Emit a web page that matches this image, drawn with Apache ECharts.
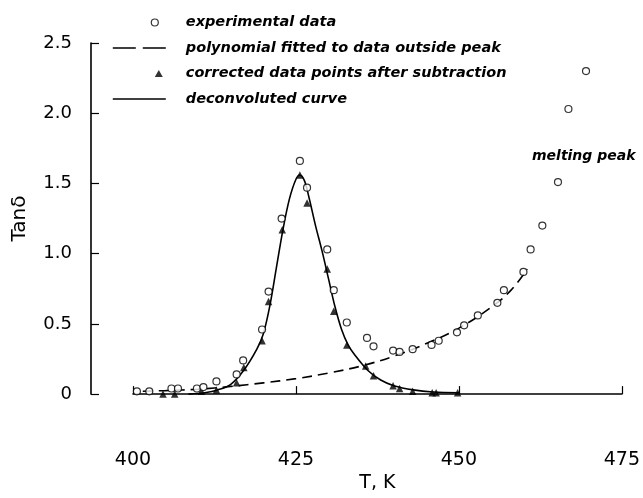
<!DOCTYPE html>
<html>
<head>
<meta charset="utf-8">
<script src="https://cdn.jsdelivr.net/npm/echarts@6/dist/echarts.min.js"></script>
<style>html,body{margin:0;padding:0;background:#fff}#c{width:643px;height:498px}</style>
</head>
<body>
<div id="c"></div>
<script>
// experimental data (open circles)
var expT = [399.8, 400.6, 402.5, 405.9, 406.9, 409.8, 410.8, 412.8, 415.9, 416.9, 419.8, 420.8, 422.8, 425.6, 426.7, 429.8, 430.8, 432.8, 435.9, 436.9, 439.9, 440.9, 442.9, 445.8, 446.9, 449.7, 450.8, 452.9, 455.9, 456.9, 459.9, 461.0, 462.8, 465.2, 466.8, 469.5];
var expV = [0.02, 0.02, 0.02, 0.04, 0.04, 0.04, 0.05, 0.09, 0.14, 0.24, 0.46, 0.73, 1.25, 1.66, 1.47, 1.03, 0.74, 0.51, 0.40, 0.34, 0.31, 0.30, 0.32, 0.35, 0.38, 0.44, 0.49, 0.56, 0.65, 0.74, 0.87, 1.03, 1.20, 1.51, 2.03, 2.30];
// polynomial fitted to data outside peak (dashed)
var polyT = [401.5, 405, 410, 415, 420, 425, 430, 435, 440, 445, 450, 455, 458, 460.5];
var polyV = [0.02, 0.025, 0.035, 0.055, 0.08, 0.11, 0.15, 0.20, 0.27, 0.36, 0.47, 0.62, 0.74, 0.89];
// corrected data points after subtraction (filled triangles)
var triT = [404.6, 406.4, 410.5, 412.8, 415.9, 417.0, 419.8, 420.8, 422.9, 425.6, 426.7, 429.8, 430.8, 432.8, 435.7, 436.9, 439.9, 440.9, 442.9, 445.9, 446.5, 449.8];
var triV = [0.0, 0.0, 0.02, 0.03, 0.08, 0.19, 0.38, 0.66, 1.17, 1.56, 1.36, 0.89, 0.59, 0.35, 0.20, 0.13, 0.06, 0.04, 0.02, 0.01, 0.01, 0.01];
// deconvoluted curve (solid)
var decT = [408.5, 411, 413, 415, 417, 419, 420, 421, 422, 423, 424, 425, 425.6, 426.3, 427, 428, 429, 430, 431, 432, 433, 434, 436, 438, 440, 443, 446, 450];
var decV = [0.0, 0.01, 0.03, 0.07, 0.17, 0.32, 0.43, 0.63, 0.90, 1.17, 1.39, 1.53, 1.56, 1.52, 1.40, 1.20, 1.02, 0.82, 0.62, 0.46, 0.35, 0.28, 0.17, 0.10, 0.06, 0.03, 0.015, 0.01];

var xTicks = [400, 425, 450, 475];
var yTicks = ['0', '0.5', '1.0', '1.5', '2.0', '2.5'];

function pairs(a, b) { return a.map(function (v, i) { return [v, b[i]]; }); }

var TICKFONT = '"DejaVu Sans", sans-serif';
var chart = echarts.init(document.getElementById('c'));
chart.setOption({
  animation: false,
  backgroundColor: '#fff',
  grid: { left: 133, right: 20, top: 43, bottom: 100 },
  legend: {
    orient: 'vertical', left: 107, top: 8.5,
    itemWidth: 53, itemHeight: 12, itemGap: 7.5,
    symbolKeepAspect: false,
    selectedMode: false,
    textStyle: { fontFamily: TICKFONT, fontStyle: 'italic', fontWeight: 'bold', fontSize: 14.5, lineHeight: 18, color: '#000', padding: [0, 0, 0, 15] },
    data: [
      { name: 'experimental data',
        icon: 'path://M0,0L0,0M53,12L53,12M45.5,6A3.5,3.5,0,1,1,38.5,6A3.5,3.5,0,1,1,45.5,6Z',
        itemStyle: { color: '#fff', borderColor: '#000', borderWidth: 1.2 } },
      { name: 'polynomial fitted to data outside peak',
        itemStyle: { opacity: 0 }, lineStyle: { type: [23, 7], width: 1.6, color: '#000' } },
      { name: 'corrected data points after subtraction',
        icon: 'path://M0,0L0,0M53,12L53,12M46,2.5L50,9.5L42,9.5Z',
        itemStyle: { color: '#000', borderWidth: 0 } },
      { name: 'deconvoluted curve',
        itemStyle: { opacity: 0 }, lineStyle: { width: 1.3, color: '#000' } }
    ]
  },
  xAxis: {
    type: 'value', min: 400, max: 475, interval: 25, offset: 39,
    name: 'T, K', nameLocation: 'middle', nameGap: 40,
    nameTextStyle: { fontFamily: TICKFONT, fontSize: 19, color: '#000' },
    axisLine: { lineStyle: { color: '#000', width: 1.6 } },
    axisTick: { inside: true, length: 8, lineStyle: { color: '#000', width: 1.2 } },
    axisLabel: { margin: 17, fontFamily: TICKFONT, fontSize: 19, color: '#000',
      formatter: function (v) { return xTicks.indexOf(v) >= 0 ? String(v) : ''; } },
    splitLine: { show: false }
  },
  yAxis: {
    type: 'value', min: 0, max: 2.5, interval: 0.5, offset: 42,
    name: 'Tanδ', nameLocation: 'middle', nameGap: 61, nameRotate: 90,
    nameTextStyle: { fontFamily: TICKFONT, fontSize: 20, color: '#000' },
    axisLine: { lineStyle: { color: '#000', width: 1.6 } },
    axisTick: { inside: true, length: 8, lineStyle: { color: '#000', width: 1.2 } },
    axisLabel: { margin: 19, fontFamily: TICKFONT, fontSize: 18, color: '#000',
      formatter: function (v) { return yTicks[Math.round(v / 0.5)]; } },
    splitLine: { show: false }
  },
  graphic: [
    { type: 'text', left: 532, top: 149,
      style: { text: 'melting peak', font: 'italic bold 14px "DejaVu Sans", sans-serif', fill: '#000' } }
  ],
  series: [
    {
      name: 'polynomial fitted to data outside peak', type: 'line', z: 2,
      data: pairs(polyT, polyV), smooth: 0.4, showSymbol: false, symbol: 'none',
      lineStyle: { color: '#000', width: 1.6, type: [10, 6] }
    },
    {
      name: 'deconvoluted curve', type: 'line', z: 2,
      data: pairs(decT, decV), smooth: 0.35, showSymbol: false, symbol: 'none',
      lineStyle: { color: '#000', width: 1.6 }
    },
    {
      name: 'corrected data points after subtraction', type: 'scatter', z: 4,
      data: pairs(triT, triV), symbol: 'triangle', symbolSize: 7.5,
      itemStyle: { color: '#000' }
    },
    {
      name: 'experimental data', type: 'scatter', z: 5,
      data: pairs(expT, expV), symbol: 'circle', symbolSize: 7,
      itemStyle: { color: '#fff', borderColor: '#000', borderWidth: 1.2 }
    }
  ]
});
</script>
</body>
</html>
